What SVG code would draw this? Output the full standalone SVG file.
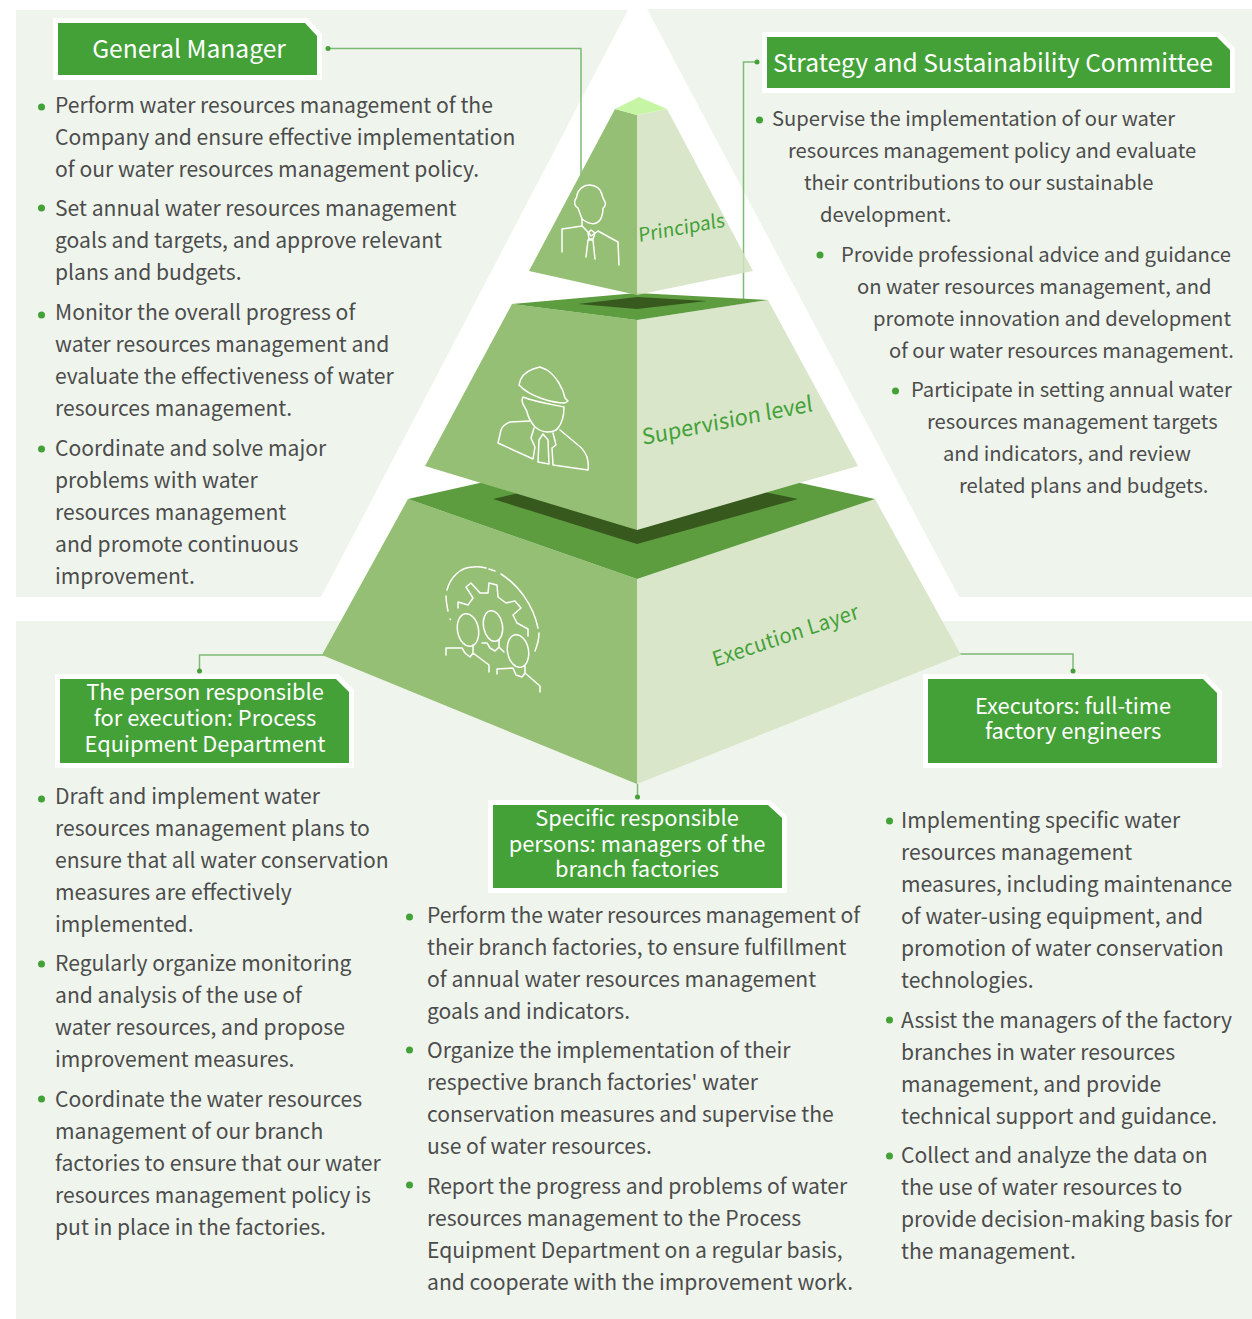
<svg xmlns="http://www.w3.org/2000/svg" width="1252" height="1319" viewBox="0 0 1252 1319">
<defs>
<style>
text{font-family:"Noto Sans CJK SC","Noto Sans",sans-serif}
.t{font-size:21.120px;fill:#4c4c4c}
.t2{font-size:20.200px;fill:#4c4c4c}
.b{fill:#43a138}
.h{font-size:21.850px;fill:#fff;text-anchor:middle}
.h2{font-size:24.600px;fill:#fff;text-anchor:middle}
.box{fill:#43a138;stroke:#fff;stroke-width:10;paint-order:stroke;stroke-linejoin:miter}
.ic{fill:none;stroke:#fff;stroke-width:1.5;stroke-linejoin:round;stroke-linecap:round}
.c{fill:none;stroke:#7dbb74;stroke-width:1.5}
.L{fill:#95bf74}.R{fill:#d9e6ca}.D{fill:#5d9d3f}.K{fill:#37591e}
.lab{fill:#43a138}
</style>
</defs>
<rect width="1252" height="1319" fill="#fff"/>
<g id="panels" fill="#eff5ec">
<polygon points="16,10 628,10 321,597 16,597"/>
<polygon points="647,9 1252,9 1252,597 959,597"/>
<rect x="16" y="621" width="1236" height="698"/>
</g>
<g id="connectors">
<path class="c" d="M328,48.500H581V175"/>
<path class="c" d="M757,62H743.500V300"/>
<path class="c" d="M325,655H199.500V671"/>
<path class="c" d="M957,654H1073V671"/>
<path class="c" d="M637.500,784V796"/>
<g class="b"><circle cx="328" cy="48.500" r="2.500"/><circle cx="757" cy="62" r="2.500"/><circle cx="199.500" cy="671" r="2.500"/><circle cx="1073" cy="671" r="2.500"/><circle cx="637.500" cy="797" r="2.500"/></g>
</g>
<g id="layer-execution">
<polygon class="L" points="408,499 322,655 637,784 637,579"/>
<polygon class="R" points="875,499 961,655 637,784 637,579"/>
<polygon class="D" points="408,499 637,448 875,499 637,579"/>
<polygon class="K" points="493,499 637,465 798,499 637,544"/>
<g class="ic">
<path d="M447,590C450,578 460,567 473,567C478,566 482,567 486,568M489,569L495,571M501,574C518,585 533,604 538,628M539,633C539,640 537,646 535,651M446,596C446,602 447,606 448,611M450,619L450.500,619.500"/>
<path d="M458,608V602L468,605L473,598L466,587L471,583L480,593H488L489,583L497,585L498,597L506,603L515,601L521,608L513,615L517,623L528,629V636"/>
<ellipse cx="468" cy="630" rx="10.500" ry="16.500" transform="rotate(-10 468 630)"/>
<ellipse cx="493" cy="626" rx="9.500" ry="15.500" transform="rotate(-10 493 626)"/>
<ellipse cx="518" cy="651" rx="10.500" ry="16.500" transform="rotate(-10 518 651)"/>
<path d="M446,655V648L462,648L465,653L470,657L473,653V645M473,653L489,665V672"/>
<path d="M482,643H487L490,648L495,651L499,647V640M499,647L504,652"/>
<path d="M497,674V669L513,668L516,675L522,677L525,673V666M525,673L540,686V692"/>
</g>
<text class="lab" font-size="20" letter-spacing=".4" transform="matrix(.95 -.32 .3 1 715 667)">Execution Layer</text>
</g>
<g id="layer-supervision">
<polygon class="L" points="512,304 425,466 637,530 637,320"/>
<polygon class="R" points="768,300 858,466 637,530 637,320"/>
<polygon class="D" points="512,304 637,293 768,300 637,320"/>
<polygon class="K" points="578,304 637,297 707,301 637,309"/>
<g class="ic">
<path d="M519,385C520,378 525,372 533,369L540,367L547,370C556,376 563,388 565,398L568,401L565,403C553,403 530,397 519,385Z"/>
<path d="M523,397L522,400C522,405 526,408 527,412C528,417 530,421 535,427C539,430 543,432 547,432C552,432 556,431 558,428C562,423 564,414 564,407C555,405 535,402 523,397Z"/>
<path d="M530,421L510,422C505,424 502,427 501,430L498,443L533,459L535,447L531,438L534,428"/>
<path d="M539,440L543,434L548,440L549,464L538,462Z"/>
<path d="M553,433L556,445L552,448L553,465L588,470C589,465 588,461 587,457C585,452 582,448 578,445L560,430"/>
</g>
<text class="lab" font-size="21.800" transform="matrix(.98 -.195 .12 .99 643 445)">Supervision level</text>
</g>
<g id="layer-principals">
<polygon class="L" points="615,109 637,115 637,295 529,271"/>
<polygon fill="#d3e2c1" fill-opacity=".85" points="667,109 637,115 637,295 753,271"/>
<polygon fill="#c6f5a4" points="639,97 615,109 637,115 667,109"/>
<g class="ic">
<path d="M582,219L578,208C575,207 574,203 575,200C577,198 577,196 577,195C578,190 583,185 589,185C596,185 601,189 602,195C603,198 604,200 604,200C606,203 606,206 603,208C603,212 602,217 600,220C596,225 590,225 582,219Z"/>
<path d="M562,252V229L582,226V219M582,226L588,232L591,236L598,231L618,242L619,265"/>
<path d="M586,257L588,240H593L595,259"/>
<path d="M588,233L591,230L595,233L593,239H589Z"/>
</g>
<text class="lab" font-size="19" transform="matrix(.985 -.176 .08 1 639 242)">Principals</text>
</g>
<g id="node-general-manager">
<polygon class="box" points="58,23 305,23 317,36 317,75 58,75"/>
<text class="h2" x="189" y="58">General Manager</text>
</g>
<g id="node-committee">
<polygon class="box" points="767,37 1217,37 1230,50 1230,88 767,88"/>
<text class="h2" x="993" y="72">Strategy and Sustainability Committee</text>
</g>
<g id="node-process">
<polygon class="box" points="60,679 336,679 349,692 349,763 60,763"/>
<text class="h" x="205" y="700">The person responsible</text>
<text class="h" x="205" y="726">for execution: Process</text>
<text class="h" x="205" y="752">Equipment Department</text>
</g>
<g id="node-specific">
<polygon class="box" points="493,805 768,805 782,818 782,888 493,888"/>
<text class="h" x="637" y="826">Specific responsible</text>
<text class="h" x="637" y="852">persons: managers of the</text>
<text class="h" x="637" y="877">branch factories</text>
</g>
<g id="node-executors">
<polygon class="box" points="928,679 1203,679 1217,693 1217,763 928,763"/>
<text class="h" x="1073" y="714">Executors: full-time</text>
<text class="h" x="1073" y="739">factory engineers</text>
</g>
<g id="text-general-manager">
<g class="b"><circle cx="41.500" cy="107" r="3.500"/><circle cx="41.500" cy="208" r="3.500"/><circle cx="41.500" cy="315" r="3.500"/><circle cx="41.500" cy="449" r="3.500"/></g>
<text class="t" x="55" y="113">Perform water resources management of the</text>
<text class="t" x="55" y="145">Company and ensure effective implementation</text>
<text class="t" x="55" y="177">of our water resources management policy.</text>
<text class="t" x="55" y="216">Set annual water resources management</text>
<text class="t" x="55" y="248">goals and targets, and approve relevant</text>
<text class="t" x="55" y="280">plans and budgets.</text>
<text class="t" x="55" y="320">Monitor the overall progress of</text>
<text class="t" x="55" y="352">water resources management and</text>
<text class="t" x="55" y="384">evaluate the effectiveness of water</text>
<text class="t" x="55" y="416">resources management.</text>
<text class="t" x="55" y="456">Coordinate and solve major</text>
<text class="t" x="55" y="488">problems with water</text>
<text class="t" x="55" y="520">resources management</text>
<text class="t" x="55" y="552">and promote continuous</text>
<text class="t" x="55" y="584">improvement.</text>
</g>
<g id="text-committee">
<g class="b"><circle cx="759.500" cy="120" r="3.500"/><circle cx="820" cy="255" r="3.500"/><circle cx="895.500" cy="391" r="3.500"/></g>
<text class="t2" x="772" y="126">Supervise the implementation of our water</text>
<text class="t2" x="788" y="158">resources management policy and evaluate</text>
<text class="t2" x="804" y="190">their contributions to our sustainable</text>
<text class="t2" x="820" y="222">development.</text>
<text class="t2" x="841" y="262">Provide professional advice and guidance</text>
<text class="t2" x="857" y="294">on water resources management, and</text>
<text class="t2" x="873" y="326">promote innovation and development</text>
<text class="t2" x="889" y="358">of our water resources management.</text>
<text class="t2" x="911" y="397">Participate in setting annual water</text>
<text class="t2" x="927" y="429">resources management targets</text>
<text class="t2" x="943" y="461">and indicators, and review</text>
<text class="t2" x="959" y="493">related plans and budgets.</text>
</g>
<g id="text-process">
<g class="b"><circle cx="41.500" cy="799" r="3.500"/><circle cx="41.500" cy="964" r="3.500"/><circle cx="41.500" cy="1099" r="3.500"/></g>
<text class="t" x="55" y="804">Draft and implement water</text>
<text class="t" x="55" y="836">resources management plans to</text>
<text class="t" x="55" y="868">ensure that all water conservation</text>
<text class="t" x="55" y="900">measures are effectively</text>
<text class="t" x="55" y="932">implemented.</text>
<text class="t" x="55" y="971">Regularly organize monitoring</text>
<text class="t" x="55" y="1003">and analysis of the use of</text>
<text class="t" x="55" y="1035">water resources, and propose</text>
<text class="t" x="55" y="1067">improvement measures.</text>
<text class="t" x="55" y="1107">Coordinate the water resources</text>
<text class="t" x="55" y="1139">management of our branch</text>
<text class="t" x="55" y="1171">factories to ensure that our water</text>
<text class="t" x="55" y="1203">resources management policy is</text>
<text class="t" x="55" y="1235">put in place in the factories.</text>
</g>
<g id="text-specific">
<g class="b"><circle cx="409.500" cy="917" r="3.500"/><circle cx="409.500" cy="1050" r="3.500"/><circle cx="409.500" cy="1185" r="3.500"/></g>
<text class="t" x="427" y="923" letter-spacing="-.12">Perform the water resources management of</text>
<text class="t" x="427" y="955">their branch factories, to ensure fulfillment</text>
<text class="t" x="427" y="987">of annual water resources management</text>
<text class="t" x="427" y="1019">goals and indicators.</text>
<text class="t" x="427" y="1058">Organize the implementation of their</text>
<text class="t" x="427" y="1090">respective branch factories' water</text>
<text class="t" x="427" y="1122">conservation measures and supervise the</text>
<text class="t" x="427" y="1154">use of water resources.</text>
<text class="t" x="427" y="1194">Report the progress and problems of water</text>
<text class="t" x="427" y="1226">resources management to the Process</text>
<text class="t" x="427" y="1258">Equipment Department on a regular basis,</text>
<text class="t" x="427" y="1290">and cooperate with the improvement work.</text>
</g>
<g id="text-executors">
<g class="b"><circle cx="889.500" cy="821" r="3.500"/><circle cx="889.500" cy="1020" r="3.500"/><circle cx="889.500" cy="1156" r="3.500"/></g>
<text class="t" x="901" y="828">Implementing specific water</text>
<text class="t" x="901" y="860">resources management</text>
<text class="t" x="901" y="892">measures, including maintenance</text>
<text class="t" x="901" y="924">of water-using equipment, and</text>
<text class="t" x="901" y="956">promotion of water conservation</text>
<text class="t" x="901" y="988">technologies.</text>
<text class="t" x="901" y="1028">Assist the managers of the factory</text>
<text class="t" x="901" y="1060">branches in water resources</text>
<text class="t" x="901" y="1092">management, and provide</text>
<text class="t" x="901" y="1124">technical support and guidance.</text>
<text class="t" x="901" y="1163">Collect and analyze the data on</text>
<text class="t" x="901" y="1195">the use of water resources to</text>
<text class="t" x="901" y="1227">provide decision-making basis for</text>
<text class="t" x="901" y="1259">the management.</text>
</g>
</svg>
